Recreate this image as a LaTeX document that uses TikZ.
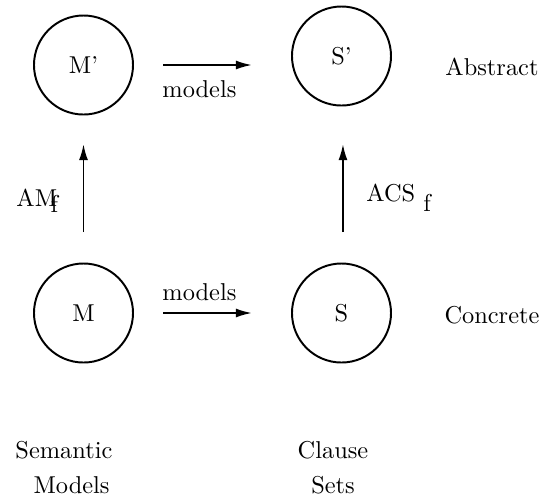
\documentclass[tikz,border=0pt]{standalone}
\usepackage{tikz}
\usetikzlibrary{arrows.meta,positioning,calc}

\begin{document}
\begin{tikzpicture}[x=0.41pt,y=-0.41pt,
  state/.style={circle,draw,line width=0.8pt,minimum size=40.6pt,inner sep=0pt},
  maps/.style={-{Latex[length=6.6pt,width=3.7pt]},line width=0.8pt},
  lbl/.style={inner sep=0pt}]
  \useasboundingbox (0,0) rectangle (551,500);
  % the four objects
  \node[state] (Mp) at (83.5,65)  {M'};
  \node[state] (Sp) at (341.5,56) {S'};
  \node[state] (M)  at (83.5,313) {M};
  \node[state] (S)  at (341.5,313) {S};
  % arrows between them
  \draw[maps,shorten <=11.9pt,shorten >=16pt] (Mp.east) -- (Mp.east -| Sp.west);
  \draw[maps,shorten <=11.9pt,shorten >=16pt] (M.east) -- (S.west);
  \draw[maps,shorten <=12.5pt,shorten >=11.7pt] (M.north) -- (Mp.south);
  \draw[maps,shorten <=12.5pt,shorten >=15.4pt] ([xshift=0.6pt]S.north) -- ([xshift=0.6pt]Sp.south);
  % labels
  \node[lbl,anchor=base west] (modtop) at (162,97)  {models};
  \node[lbl,anchor=base west] (modbot) at (162,300) {models};
  \node[lbl,anchor=base west] (amf)  at (16,206)  {AM\kern-2.7pt\raisebox{-2.5pt}{f}};
  \node[lbl,anchor=base west] (acsf) at (366,201) {ACS \raisebox{-4.5pt}{f}};
  \node[lbl,anchor=base] (abstr) at (492,75)  {Abstract};
  \node[lbl,anchor=base] (concr) at (492,323) {Concrete};
  \node[lbl,anchor=north west,align=left] (semmod) at (15,441)
    {Semantic\\[2.4pt]\hspace*{7.4pt}Models};
  \node[lbl,anchor=north,align=center] (clsets) at (333,441)
    {Clause\\[2.4pt]Sets};
\end{tikzpicture}
\end{document}
